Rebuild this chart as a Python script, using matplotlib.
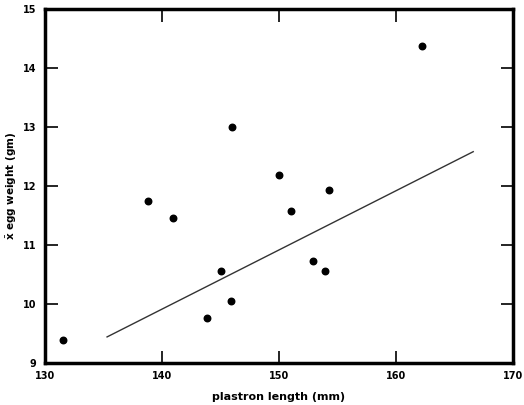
import numpy as np
import matplotlib.pyplot as plt

# plastron length (mm) vs mean egg weight (gm)
plastron_len = [131.5, 138.8, 140.9, 145.0, 143.8, 145.9, 146.0, 150.0, 154.3, 162.2, 151.0, 152.9, 153.9]
egg_weight = [9.39, 11.75, 11.46, 10.56, 9.76, 10.05, 13.0, 12.19, 11.93, 14.37, 11.58, 10.73, 10.56]

# fitted regression line end points
line_x = [135.3, 166.6]
line_y = [9.44, 12.58]

xticks = [130, 140, 150, 160, 170]
yticks = [9, 10, 11, 12, 13, 14, 15]

fig = plt.figure(figsize=(5.24, 4.05), dpi=100)
ax = fig.add_axes([0.086, 0.104, 0.893, 0.874])

ax.scatter(plastron_len, egg_weight, s=22, color='black', zorder=3)
ax.plot(line_x, line_y, color='#333333', linewidth=1.0)

ax.set_xlim(130, 170)
ax.set_ylim(9, 15)
ax.set_xticks(xticks)
ax.set_yticks(yticks)

for s in ax.spines.values():
    s.set_linewidth(2.5)

ax.tick_params(direction='in', length=9, width=1.2, top=True, right=True,
               labelsize=7, pad=6)
for lab in ax.get_xticklabels() + ax.get_yticklabels():
    lab.set_fontweight('bold')

ax.set_xlabel('plastron length (mm)', fontsize=8, fontweight='bold', labelpad=8)
ax.set_ylabel(r'$\bar{\mathbf{x}}$ egg weight (gm)', fontsize=7.5, fontweight='bold', labelpad=3)

fig.savefig('out.png', dpi=100)
